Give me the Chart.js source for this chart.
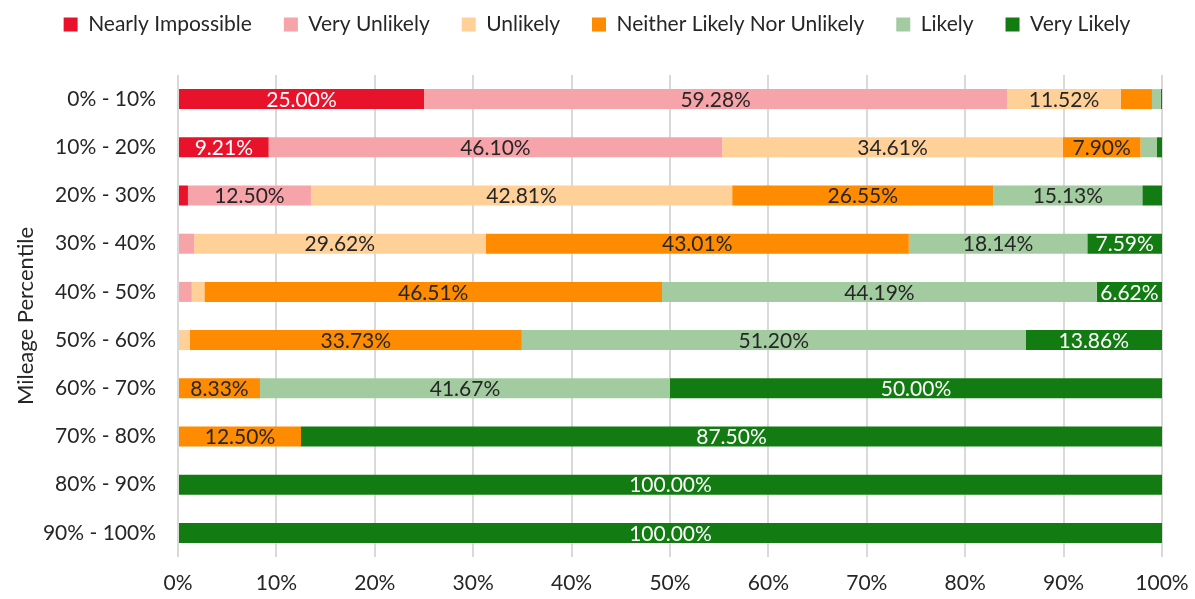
<!DOCTYPE html>
<html>
<head>
<meta charset="utf-8">
<script src="https://cdn.jsdelivr.net/npm/chart.js@4"></script>
<style>
  html, body { margin: 0; padding: 0; background: #fff; }
  #wrap { width: 1195px; height: 599px; }
</style>
</head>
<body>
<div id="wrap"><canvas id="myChart"></canvas></div>
<script>
let categories = ['0% - 10%', '10% - 20%', '20% - 30%', '30% - 40%', '40% - 50%',
  '50% - 60%', '60% - 70%', '70% - 80%', '80% - 90%', '90% - 100%'];

let nearlyImpossible = [25.00, 9.21, 1.01, 0, 0, 0, 0, 0, 0, 0];
let veryUnlikely = [59.28, 46.10, 12.50, 1.64, 1.40, 0, 0, 0, 0, 0];
let unlikely = [11.52, 34.61, 42.81, 29.62, 1.28, 1.21, 0, 0, 0, 0];
let neither = [3.18, 7.90, 26.55, 43.01, 46.51, 33.73, 8.33, 12.50, 0, 0];
let likely = [0.90, 1.67, 15.13, 18.14, 44.19, 51.20, 41.67, 0, 0, 0];
let veryLikely = [0.12, 0.51, 2.00, 7.59, 6.62, 13.86, 50.00, 87.50, 100, 100];

let seriesNames = ['Nearly Impossible', 'Very Unlikely', 'Unlikely', 'Neither Likely Nor Unlikely', 'Likely', 'Very Likely'];
let seriesData = [nearlyImpossible, veryUnlikely, unlikely, neither, likely, veryLikely];
let colors = ['#e8132b', '#f6a3aa', '#ffd097', '#ff8b00', '#a2cc9f', '#127c12'];
let labelColors = ['#ffffff', '#262626', '#262626', '#262626', '#262626', '#ffffff'];

const FONT = 'Lato, "Open Sans", sans-serif';

// puts the percentage inside each segment that is wide enough
const segmentLabels = {
  id: 'segmentLabels',
  afterDatasetsDraw(chart) {
    const ctx = chart.ctx;
    ctx.save();
    ctx.font = '21px ' + FONT;
    ctx.textAlign = 'center';
    ctx.textBaseline = 'middle';
    chart.data.datasets.forEach((ds, i) => {
      const meta = chart.getDatasetMeta(i);
      meta.data.forEach((bar, j) => {
        const v = ds.data[j];
        if (v < 5) return;
        const p = bar.getProps(['x', 'y', 'base'], true);
        ctx.fillStyle = labelColors[i];
        ctx.fillText(v.toFixed(2) + '%', (p.x + p.base) / 2, p.y + 1);
      });
    });
    ctx.restore();
  }
};

// fixed legend height, and centre it on the whole canvas
const legendTweak = {
  id: 'legendTweak',
  beforeInit(chart) {
    const legend = chart.legend;
    const fit = legend.fit;
    legend.fit = function () {
      fit.call(legend);
      this.height = 93;
    };
    const draw = legend.draw;
    legend.draw = function (area) {
      this.ctx.save();
      this.ctx.translate(16, 0);
      draw.call(legend, area);
      this.ctx.restore();
    };
  }
};

let datasets = seriesNames.map((name, i) => ({
  label: name,
  data: seriesData[i],
  backgroundColor: colors[i],
  borderWidth: 0,
  barPercentage: 0.415,
  categoryPercentage: 1
}));

let chart = new Chart(document.getElementById('myChart').getContext('2d'), {
  type: 'bar',
  data: { labels: categories, datasets: datasets },
  plugins: [segmentLabels, legendTweak],
  options: {
    indexAxis: 'y',
    responsive: true,
    maintainAspectRatio: false,
    animation: false,
    layout: { padding: { top: -18, right: 33, left: 0, bottom: 0 } },
    plugins: {
      legend: {
        position: 'top',
        labels: {
          color: '#262626',
          font: { family: FONT, size: 21 },
          boxWidth: 14,
          boxHeight: 14,
          padding: 32
        }
      },
      tooltip: { enabled: false }
    },
    scales: {
      x: {
        stacked: true,
        min: 0,
        max: 100,
        ticks: {
          stepSize: 10,
          color: '#262626',
          font: { family: FONT, size: 21 },
          padding: 14,
          callback: v => v + '%'
        },
        grid: { color: '#d9d9d9', lineWidth: 2, drawTicks: false },
        border: { display: false },
        afterFit(scale) {
          scale.height = 42;
          scale.paddingLeft = 0;
          scale.paddingRight = 0;
        }
      },
      y: {
        stacked: true,
        ticks: {
          color: '#262626',
          font: { family: FONT, size: 21 },
          padding: 22
        },
        grid: { display: false, drawTicks: false },
        border: { display: false },
        title: {
          display: true,
          text: 'Mileage Percentile',
          color: '#262626',
          font: { family: FONT, size: 22 },
          padding: { top: 13, bottom: 0 }
        },
        afterFit(scale) { scale.width = 178; }
      }
    }
  }
});
</script>
</body>
</html>
